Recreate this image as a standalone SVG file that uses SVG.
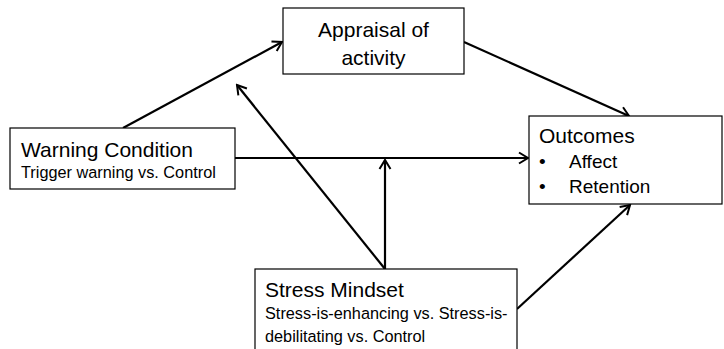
<svg xmlns="http://www.w3.org/2000/svg" width="724" height="349" viewBox="0 0 724 349">
<style>
.box{fill:#fff;stroke:#000;stroke-width:1.2}
.t{font-family:"Liberation Sans",Arial,sans-serif;fill:#000}
.big{font-size:21px}
.mid{font-size:19px}
.small{font-size:16.3px}
.c{fill:none;stroke:#000;stroke-width:2.2}
</style>
<defs>
<marker id="ah" markerUnits="userSpaceOnUse" markerWidth="14" markerHeight="14" viewBox="0 0 14 14" refX="12" refY="7" orient="auto">
<path d="M3,1.5 L12,7 L3,12.5" fill="none" stroke="#000" stroke-width="2"/>
</marker>
</defs>
<rect width="724" height="349" fill="#fff"/>
<g id="connectors">
<line class="c" x1="123" y1="128" x2="282" y2="42" marker-end="url(#ah)"/>
<line class="c" x1="385" y1="269" x2="237" y2="85" marker-end="url(#ah)"/>
<line class="c" x1="235" y1="158" x2="528" y2="158" marker-end="url(#ah)"/>
<line class="c" x1="385" y1="269" x2="385" y2="160" marker-end="url(#ah)"/>
<line class="c" x1="464" y1="42" x2="629" y2="116" marker-end="url(#ah)"/>
<line class="c" x1="517" y1="309" x2="630" y2="205" marker-end="url(#ah)"/>
</g>
<g id="appraisal">
<rect class="box" x="283" y="8" width="181" height="66"/>
<text class="t big" x="373.5" y="37" text-anchor="middle">Appraisal of</text>
<text class="t big" x="373.5" y="65" text-anchor="middle">activity</text>
</g>
<g id="warning">
<rect class="box" x="10" y="128" width="225" height="61"/>
<text class="t big" x="21" y="157">Warning Condition</text>
<text class="t small" x="21" y="178">Trigger warning vs. Control</text>
</g>
<g id="outcomes">
<rect class="box" x="529" y="116" width="193" height="88"/>
<text class="t big" x="539" y="143">Outcomes</text>
<text class="t mid" x="539" y="168">•</text>
<text class="t mid" x="569" y="168">Affect</text>
<text class="t mid" x="539" y="193">•</text>
<text class="t mid" x="569" y="193">Retention</text>
</g>
<g id="stress">
<rect class="box" x="255" y="269" width="262" height="100"/>
<text class="t big" x="265" y="297">Stress Mindset</text>
<text class="t small" x="265" y="319">Stress-is-enhancing vs. Stress-is-</text>
<text class="t small" x="265" y="342">debilitating vs. Control</text>
</g>
</svg>
